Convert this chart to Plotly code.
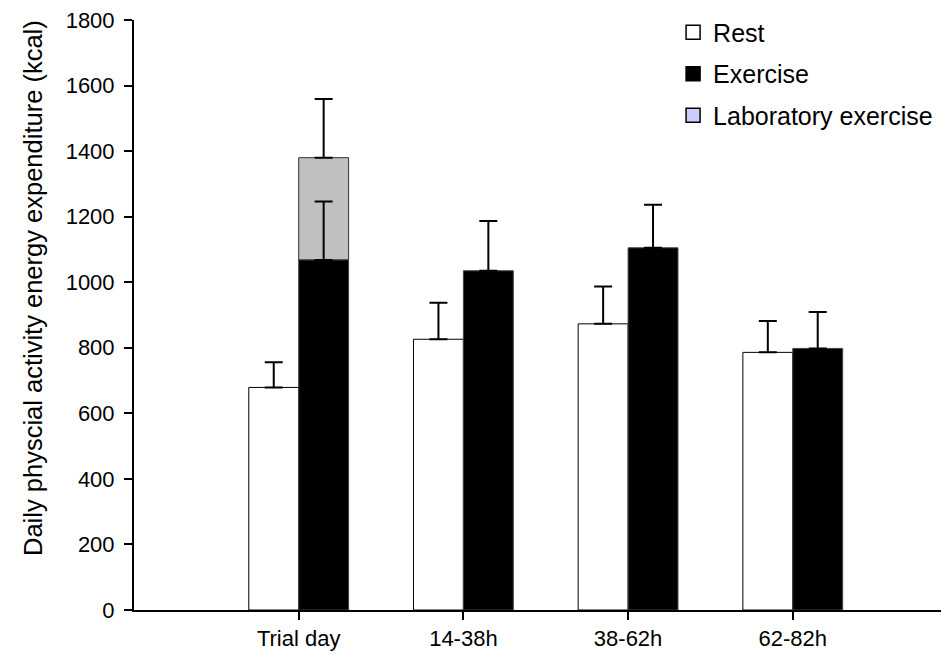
import plotly.graph_objects as go

categories = ["Trial day", "14-38h", "38-62h", "62-82h"]
rest = [679, 826, 873, 786]
rest_err = [77, 111, 114, 96]
exercise = [1068, 1035, 1105, 798]
exercise_err = [178, 152, 131, 111]
lab_total = [1380]
lab_err = [179]
y_ticks = list(range(0, 1801, 200))
y_title = "Daily physcial activity energy expenditure (kcal)"

xpos = list(range(1, len(categories) + 1))
bw = 0.303
FONT = "Arial, Liberation Sans, sans-serif"

fig = go.Figure()
fig.add_trace(go.Bar(
    x=xpos, y=rest, width=bw, offset=-bw, showlegend=False,
    marker=dict(color="white", line=dict(color="black", width=1)),
    error_y=dict(type="data", symmetric=False, array=rest_err,
                 arrayminus=[0] * len(rest_err), color="black", thickness=2, width=9),
))
fig.add_trace(go.Bar(
    x=xpos[:1], y=[lab_total[0] - exercise[0]], base=exercise[:1], width=bw, offset=0,
    showlegend=False,
    marker=dict(color="#C0C0C0", line=dict(color="#333333", width=1)),
    error_y=dict(type="data", symmetric=False, array=lab_err, arrayminus=[0],
                 color="black", thickness=2, width=9),
))
fig.add_trace(go.Bar(
    x=xpos, y=exercise, width=bw, offset=0, showlegend=False,
    marker=dict(color="black", line=dict(color="#444444", width=1)),
    error_y=dict(type="data", symmetric=False, array=exercise_err,
                 arrayminus=[0] * len(exercise_err), color="black", thickness=2, width=9),
))

legend_items = [("Rest", "white"), ("Exercise", "black"), ("Laboratory exercise", "#CCCCFF")]
for i, (name, col) in enumerate(legend_items):
    fig.add_trace(go.Scatter(
        x=[None], y=[None], mode="markers", name=name, legendgroup=f"g{i}",
        marker=dict(symbol="square", size=14, color=col, line=dict(color="black", width=1.5)),
    ))

fig.add_annotation(
    text=y_title, textangle=-90, xref="paper", yref="paper",
    x=-0.125, y=0.546, xanchor="center", yanchor="middle", showarrow=False,
    font=dict(family=FONT, size=25.5, color="black"),
)

fig.update_layout(
    width=941, height=657,
    margin=dict(l=134, r=0, t=20, b=47),
    paper_bgcolor="white", plot_bgcolor="white",
    barmode="overlay",
    font=dict(family=FONT, size=22, color="black"),
    showlegend=True,
    legend=dict(x=0.668, y=1.018, xanchor="left", yanchor="top",
                font=dict(family=FONT, size=25, color="black"),
                traceorder="grouped", tracegroupgap=6,
                bgcolor="rgba(0,0,0,0)", itemsizing="trace"),
    xaxis=dict(range=[0, 4.9], tickvals=xpos, ticktext=categories,
               showline=True, linecolor="black", linewidth=2,
               ticks="outside", ticklen=8, tickwidth=1.5, tickcolor="black",
               showgrid=False, zeroline=False),
    yaxis=dict(range=[0, 1800], tickvals=y_ticks,
               showline=True, linecolor="black", linewidth=2,
               ticks="outside", ticklen=8, tickwidth=1.5, tickcolor="black",
               ticklabelstandoff=5,
               showgrid=False, zeroline=False),
)

fig.write_html("out.html")
